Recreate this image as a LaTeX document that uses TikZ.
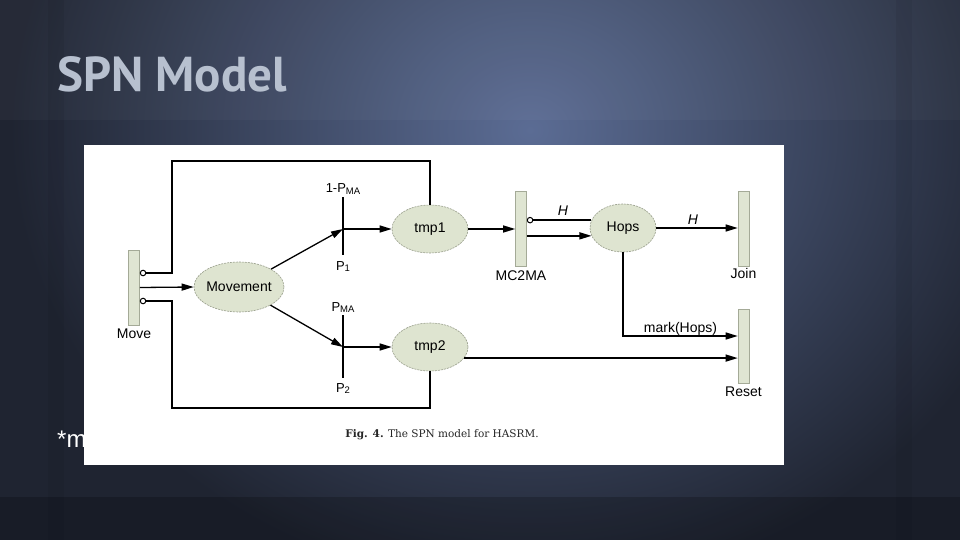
\documentclass[tikz,border=0pt]{standalone}
\usepackage{fontspec}
\setmainfont{Liberation Sans}
\newfontfamily\titlefont{PT Sans}
\newfontfamily\capfont{DejaVu Serif}
\usetikzlibrary{arrows.meta,shapes.geometric,calc,fadings}
\definecolor{bgdark}{HTML}{1F2431}
\definecolor{bglight}{HTML}{5B6C94}
\definecolor{titlecol}{HTML}{B7C0CF}
\definecolor{placefill}{HTML}{DEE4D0}
\definecolor{placeline}{HTML}{979D8A}
\definecolor{transfill}{HTML}{DFE5D2}
\definecolor{transline}{HTML}{A4AA97}
\newcommand\smallsub[1]{\raisebox{-1.2pt}{\fontsize{9.5}{9.5}\selectfont #1}}
\tikzset{
  place/.style={ellipse, fill=placefill, draw=placeline, line width=0.6pt,
    dash pattern=on 2pt off 1pt, inner sep=0pt, font=\fontsize{14}{14}\selectfont},
  tbar/.style={rectangle, fill=transfill, draw=transline, line width=0.6pt,
    minimum width=11pt, minimum height=75pt, inner sep=0pt},
  ibar/.style={rectangle, fill=black, minimum width=1.4pt, inner sep=0pt},
  lbl/.style={font=\fontsize{14}{14}\selectfont, inner sep=0pt, anchor=base},
  plbl/.style={font=\fontsize{13}{13}\selectfont, inner sep=0pt, anchor=base},
  arc/.style={line width=1.3pt, -{Triangle[length=12pt,width=7pt]}},
  inh/.style={line width=1.3pt, -{Circle[open,length=6.5pt,width=6.5pt,line width=1pt]}},
}
\begin{document}
\begin{tikzpicture}[x=1pt,y=-1pt]
\useasboundingbox (0,0) rectangle (960,540);
% background
\fill[bgdark] (0,0) rectangle (960,540);
\begin{scope}
\clip (0,0) rectangle (960,540);
\shade[inner color=bglight, outer color=bgdark] (530,130) ellipse [x radius=520, y radius=460];
\end{scope}
\fill[white, opacity=0.03] (0,0) rectangle (960,120);
\fill[black, opacity=0.2] (0,497) rectangle (960,540);
\fill[black, opacity=0.05] (48,0) rectangle (64,540);
\fill[black, opacity=0.05] (896,0) rectangle (912,540);
% title
\node[anchor=base west, inner sep=0pt, text=titlecol, font=\titlefont\bfseries\fontsize{49}{49}\selectfont] (title) at (57,92) {SPN Model};
% hidden text behind picture
\node[anchor=base west, inner sep=0pt, text=white, font=\fontsize{24}{24}\selectfont] (note) at (57,447) {*m};
% picture panel
\fill[white] (84,145) rectangle (784,465);
% transitions
\node[tbar] (move) at (134,287.5) {};
\node[tbar] (mc2ma) at (521,228.5) {};
\node[tbar] (join) at (743.5,228.5) {};
\node[tbar, minimum height=74pt] (reset) at (743.5,346) {};
\node[ibar, minimum height=58pt] (p1) at (343,226) {};
\node[ibar, minimum height=63pt] (p2) at (343,346.5) {};
\coordinate (p1j) at (343,229);
\coordinate (p2j) at (343,347);
% places
\node[place, minimum width=90pt, minimum height=50pt] (movement) at (239,287) {\makebox[0pt]{Movement}};
\node[place, minimum width=76pt, minimum height=48pt] (tmp1) at (430,229) {\makebox[0pt]{tmp1}};
\node[place, minimum width=76pt, minimum height=48pt] (tmp2) at (430,347) {\makebox[0pt]{tmp2}};
\node[place, minimum width=66pt, minimum height=48pt] (hops) at (623,228) {\makebox[0pt]{Hops}};
% labels
\node[lbl] (movelbl) at (134,338) {Move};
\node[lbl] (mc2malbl) at (521,280) {MC2MA};
\node[lbl] (joinlbl) at (743.5,278) {Join};
\node[lbl] (resetlbl) at (743.5,396) {Reset};
\node[plbl] (p1top) at (343,193) {1-P\smallsub{MA}};
\node[plbl] (p1bot) at (343,270) {P\smallsub{1}};
\node[plbl] (p2top) at (343,311) {P\smallsub{MA}};
\node[plbl] (p2bot) at (343,392) {P\smallsub{2}};
\node[lbl] (h1) at (563,215) {\itshape H};
\node[lbl] (h2) at (693,224) {\itshape H};
\node[lbl] (marklbl) at (680.5,332) {mark(Hops)};
% connectors
\draw[inh] (tmp1.north) |- (172,161) |- ([yshift=14.5pt]move.east);
\draw[inh] (tmp2.south) |- (172,408) |- ([yshift=-13.5pt]move.east);
\draw[arc] (move.east) -- (movement.west);
\draw[arc] (movement) -- (p1j);
\draw[arc] (movement) -- (p2j);
\draw[arc] (p1j) -- (tmp1);
\draw[arc] (p2j) -- (tmp2);
\draw[arc] (tmp1.east) -- (tmp1.east -| mc2ma.west);
\draw[inh] (hops.166) -- (hops.166 -| mc2ma.east);
\draw[arc] (hops.194 -| mc2ma.east) -- (hops.194);
\draw[arc] (hops.east) -- (hops.east -| join.west);
\draw[arc] (hops.south) |- ([yshift=10pt]reset.west);
\draw[arc] (tmp2.-18) -- (tmp2.-18 -| reset.west);
% caption
\node[inner sep=0pt, text=black!85, font=\capfont\fontsize{10.5}{10.5}\selectfont] (caption) at (442,435) {\textbf{Fig. 4.} The SPN model for HASRM.};
\end{tikzpicture}
\end{document}
